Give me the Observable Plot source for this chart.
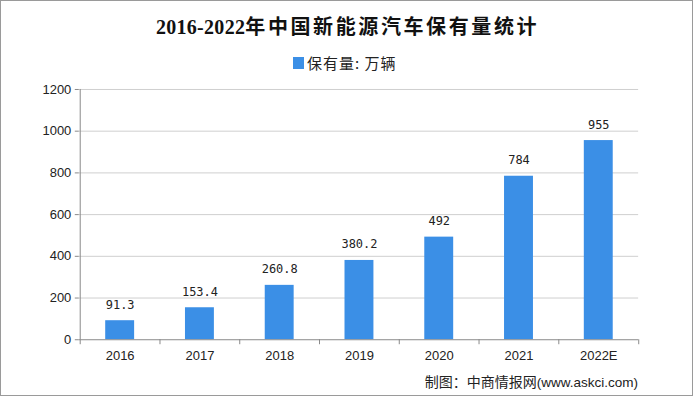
<!DOCTYPE html>
<html>
<head>
<meta charset="utf-8">
<script src="https://cdn.jsdelivr.net/npm/d3@7"></script>
<script src="https://cdn.jsdelivr.net/npm/@observablehq/plot@0.6"></script>
<style>
  html, body { margin: 0; padding: 0; background: #fff; }
  #wrap { position: relative; width: 691px; height: 394px; border: 1px solid #9a9a9a; background: #fff; overflow: hidden; }
  #title { position: absolute; left: 0; width: 693px; top: 12px; text-align: center; font-family: "Noto Sans CJK SC", sans-serif; font-weight: bold; font-size: 20px; color: #111; line-height: 26px; }
  #title .num { font-family: "Liberation Serif", serif; letter-spacing: 0.3px; }
  #title .cjk { letter-spacing: 2.6px; }
  #legend { position: absolute; left: 292px; top: 52px; font-family: "Noto Sans CJK SC", sans-serif; font-size: 15px; color: #222; line-height: 20px; letter-spacing: 1px; display: flex; align-items: center; }
  #legend .sw { width: 11px; height: 12px; background: #3b8fe6; margin-right: 3px; }
  #chart { position: absolute; left: 0; top: 80px; }
  #caption { position: absolute; right: 54px; top: 370px; font-family: "Noto Sans CJK SC", sans-serif; font-size: 14px; color: #222; line-height: 20px; }
  #caption .url { font-family: "Liberation Sans", sans-serif; font-size: 13.5px; }
</style>
</head>
<body>
<div id="wrap">
  <div id="title"><span class="num">2016-2022</span><span class="cjk">年中国新能源汽车保有量统计</span></div>
  <div id="legend"><span class="sw"></span><span>保有量: 万辆</span></div>
  <div id="chart"></div>
  <div id="caption">制图：中商情报网<span class="url">(www.askci.com)</span></div>
</div>
<script>
const years = ["2016", "2017", "2018", "2019", "2020", "2021", "2022E"];
const values = [91.3, 153.4, 260.8, 380.2, 492, 784, 955];
const labels = ["91.3", "153.4", "260.8", "380.2", "492", "784", "955"];
const yTicks = [0, 200, 400, 600, 800, 1000, 1200];

const data = years.map((y, i) => ({year: y, value: values[i], label: labels[i]}));

const W = 693, H = 290, mL = 78, mR = 54;
const half = (W - mL - mR) / years.length / 2;

const chart = Plot.plot({
  width: W,
  height: H,
  marginLeft: mL,
  marginRight: mR,
  marginTop: 8,
  marginBottom: 31,
  style: {fontFamily: "'Liberation Sans', Arial, sans-serif", fontSize: "13px", color: "#222", background: "transparent"},
  x: {type: "band", domain: years, padding: 0, label: null},
  y: {domain: [0, 1200], label: null},
  marks: [
    Plot.gridY(yTicks.filter(d => d > 0), {stroke: "#cfcfcf", strokeOpacity: 1}),
    Plot.barY(data, {x: "year", y: "value", fill: "#3b8fe6", insetLeft: 25.5, insetRight: 25.5}),
    Plot.ruleY([0], {stroke: "#8a8a8a"}),
    Plot.ruleX([years[0]], {dx: -half, stroke: "#8a8a8a"}),
    Plot.axisY({ticks: yTicks, tickFormat: d => String(d), tickSize: 4, tickPadding: 4, stroke: "#8a8a8a", label: null, fontSize: 13}),
    Plot.axisX({tickSize: 5, dx: -half, text: null, stroke: "#8a8a8a", label: null}),
    Plot.axisX({ticks: [years[years.length - 1]], tickSize: 5, dx: half, text: null, stroke: "#8a8a8a", label: null}),
    Plot.axisX({tickSize: 0, tickPadding: 11, label: null, fontSize: 13}),
    Plot.text(data, {x: "year", y: "value", text: "label", lineAnchor: "bottom", dy: -12, fontFamily: "'DejaVu Sans Mono', monospace", fontSize: 12, fill: "#222"})
  ]
});
document.getElementById("chart").appendChild(chart);
</script>
</body>
</html>
